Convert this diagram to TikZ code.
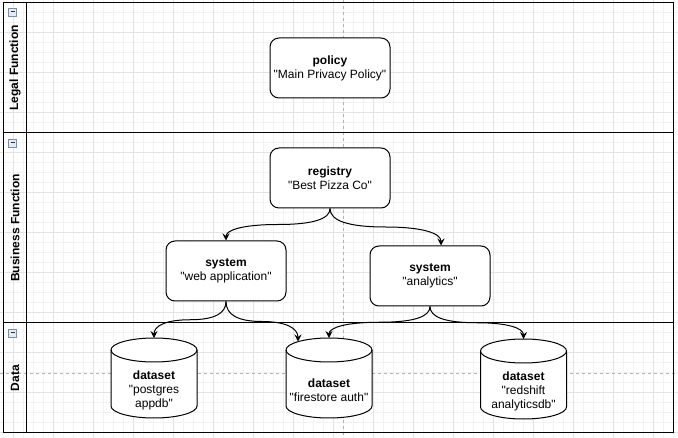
\documentclass[tikz,border=0pt]{standalone}
\usepackage{fontspec}
\setmainfont{Liberation Sans}[Ligatures=TeXOff]
\usetikzlibrary{arrows.meta,calc}
\definecolor{gridminor}{HTML}{F2F2F2}
\definecolor{gridmajor}{HTML}{E3E3E3}
\definecolor{guide}{HTML}{B3B3B3}
\definecolor{iconborder}{HTML}{7C8EA3}
\definecolor{iconfill}{HTML}{E4EBF2}
\newcommand\dbcyl[1]{%
  \draw[fill=white] ([yshift=-12pt]#1.north west) -- ([yshift=12pt]#1.south west)
    arc[start angle=180,end angle=360,x radius=43pt,y radius=12pt]
    -- ([yshift=-12pt]#1.north east)
    arc[start angle=0,end angle=180,x radius=43pt,y radius=12pt] -- cycle;
  \draw ([yshift=-12pt]#1.north west) arc[start angle=180,end angle=360,x radius=43pt,y radius=12pt];}
\begin{document}
\begin{tikzpicture}[x=1pt,y=-1pt,line width=1pt,
  box/.style={draw=black,fill=white,rounded corners=9pt,minimum width=120pt,minimum height=60pt,
    align=center,font=\fontsize{12}{14}\selectfont,inner sep=0pt},
  dsbox/.style={minimum width=86pt,minimum height=80pt,inner sep=0pt,outer sep=0pt},
  dstext/.style={align=center,font=\fontsize{12}{14}\selectfont,inner sep=0pt},
  lanelabel/.style={rotate=90,font=\fontsize{12}{14}\selectfont\bfseries,inner sep=0pt},
  icon/.style={draw=iconborder,fill=iconfill,line width=0.8pt,minimum width=8pt,minimum height=8pt,
    inner sep=0pt,path picture={\draw[black!80,line width=1pt]
      ([xshift=2pt]path picture bounding box.west) -- ([xshift=-2pt]path picture bounding box.east);}},
  curv/.style={to path={let \p1=(\tikztostart), \p2=(\tikztotarget) in
    .. controls (\x1,{(\y1)+((\y2)-(\y1))/3}) and ({(\x1)+((\x2)-(\x1))/6},{((\y1)+(\y2))/2})
    .. ({((\x1)+(\x2))/2},{((\y1)+(\y2))/2})
    .. controls ({(\x2)-((\x2)-(\x1))/6},{((\y1)+(\y2))/2}) and (\x2,{(\y2)-((\y2)-(\y1))/3})
    .. (\x2,\y2) \tikztonodes}},
  arr/.style={-{Stealth[length=7pt,width=7pt,inset=2.5pt]},line width=1pt,curv},
  gminor/.style={draw=gridminor,line width=1pt},
  gmajor/.style={draw=gridmajor,line width=1pt},
  guideline/.style={draw=guide,line width=0.8pt,dash pattern=on 3pt off 3pt}
]
\useasboundingbox (0,0) rectangle (678,438);
% grid
\foreach \x in {3,13,...,673} \draw[gminor] (\x,0) -- (\x,438);
\foreach \y in {3,13,...,433} \draw[gminor] (0,\y) -- (678,\y);
\foreach \x in {13,53,...,653} \draw[gmajor] (\x,0) -- (\x,438);
\foreach \y in {33,73,...,433} \draw[gmajor] (0,\y) -- (678,\y);
% guides
\draw[guideline] (343,0) -- (343,438);
\draw[guideline] (0,373) -- (678,373);
% pool and lanes
\draw (3,3) rectangle (673,433);
\draw (26,3) -- (26,433);
\draw (3,133) -- (673,133);
\draw (3,323) -- (673,323);
\node[lanelabel] (l1) at (15,68) {Legal Function};
\node[lanelabel] (l2) at (15,228) {Business Function};
\node[lanelabel] (l3) at (15,378) {Data};
\node[icon] (i1) at (12.5,12) {};
\node[icon] (i2) at (12.5,143) {};
\node[icon] (i3) at (12.5,333) {};
% boxes
\node[box] (policy) at (330,68) {\textbf{policy}\\"Main Privacy Policy"};
\node[box] (registry) at (330,178) {\textbf{registry}\\"Best Pizza Co"};
\node[box] (web) at (226,271) {\textbf{system}\\"web application"};
\node[box] (ana) at (430,276) {\textbf{system}\\"analytics"};
% datasets
\node[dsbox] (pg) at (154,378) {};
\node[dsbox] (fs) at (329,378) {};
\node[dsbox] (rs) at (523.5,379) {};
\dbcyl{pg}
\dbcyl{fs}
\dbcyl{rs}
\node[dstext] (pgt) at ($(pg.center)+(0,12.5)$) {\textbf{dataset}\\"postgres\\appdb"};
\node[dstext] (fst) at ($(fs.center)+(0,12.5)$) {\textbf{dataset}\\"firestore auth"};
\node[dstext] (rst) at ($(rs.center)+(0,12.5)$) {\textbf{dataset}\\"redshift\\analyticsdb"};
% connectors
\coordinate (anain) at ($(ana.north)+(11,0)$);
\coordinate (fsin) at ($(fs.north)+(-31,3.5)$);
\draw[arr] (registry.south) to (web.north);
\draw[arr] (registry.south) to (anain);
\draw[arr] (web.south) to (pg.north);
\draw[arr] (web.south) to (fsin);
\draw[arr] (ana.south) to (fs.north);
\draw[arr] (ana.south) to (rs.north);
\end{tikzpicture}
\end{document}
